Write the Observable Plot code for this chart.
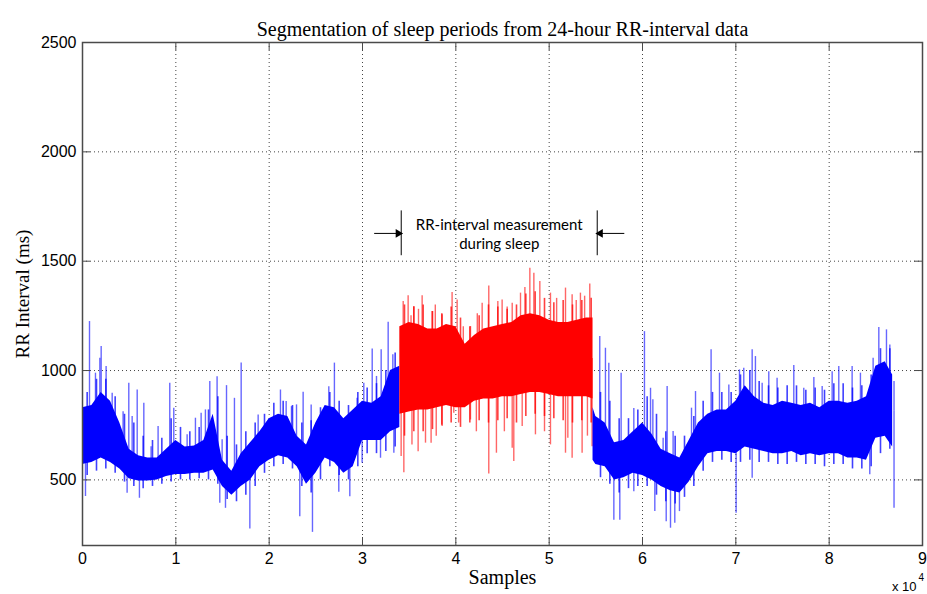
<!DOCTYPE html>
<html><head><meta charset="utf-8">
<script src="https://cdn.jsdelivr.net/npm/d3@7"></script>
<script src="https://cdn.jsdelivr.net/npm/@observablehq/plot@0.6"></script>
<style>body{margin:0;background:#fff}svg{display:block}</style>
</head><body><div id="chart"></div>
<script>
// ---- data (RR interval, ms) ----
const xTicks = [0,10000,20000,30000,40000,50000,60000,70000,80000,90000];
const yTicks = [500,1000,1500,2000,2500];

// awake period before sleep (dense band envelope)
const preX  = [0,1000,2000,3000,4000,5000,6000,7000,8000,9000,10000,11000,12000,13000,14000,15000,16000,17000,18000,19000,20000,21000,22000,23000,24000,25000,26000,27000,28000,29000,30000,31000,32000,33000,34000];
const preLo = [570,580,600,580,550,505,495,495,500,515,525,525,530,530,545,470,430,470,500,560,590,610,600,560,480,530,600,580,530,560,680,680,680,720,740];
const preHi = [830,840,900,860,760,640,610,600,600,640,680,650,655,680,800,590,540,620,670,720,780,800,790,700,660,760,840,830,780,820,860,850,880,1000,1020];
// fuzzy edge reached by the frequent short beats, between the band points
const preFx  = [500,1500,2500,3500,4500,5500,6500,7500,8500,9500,10500,11500,12500,13500,14500,15500,16500,17500,18500,19500,20500,21500,22500,23500,24500,25500,26500,27500,28500,29500,30500,31500,32500,33500];
const preFHi = [900,960,960,880,800,760,700,680,690,780,740,720,740,820,880,700,660,720,760,800,850,860,840,760,770,830,900,860,840,900,920,940,1000,1080];
const preFLo = [520,540,550,530,490,470,460,470,480,490,500,500,505,500,480,410,400,430,470,530,560,570,550,470,440,500,560,520,500,560,620,620,630,650];

// sleep period (red)
const sleepX  = [34000,35000,36000,37000,38000,39000,40000,41000,42000,43000,44000,45000,46000,47000,48000,49000,50000,51000,52000,53000,54000,54700];
const sleepLo = [800,810,820,820,830,840,830,830,860,870,870,880,880,890,900,900,890,880,880,880,880,870];
const sleepHi = [1200,1220,1210,1190,1190,1210,1200,1120,1160,1190,1200,1210,1220,1250,1260,1250,1230,1220,1220,1230,1240,1240];
const sleepFx  = [34500,35500,36500,37500,38500,39500,40500,41500,42500,43500,44500,45500,46500,47500,48500,49500,50500,51500,52500,53500,54500];
const sleepFHi = [1300,1290,1300,1270,1260,1290,1240,1200,1250,1300,1290,1280,1300,1350,1360,1330,1310,1320,1300,1320,1330];
const sleepFLo = [700,720,720,730,750,760,740,760,770,760,770,780,760,790,800,790,780,770,760,770,760];

// awake period after sleep
const postX  = [54700,55000,56000,57000,58000,59000,60000,61000,62000,63000,64000,65000,66000,67000,68000,69000,70000,71000,72000,73000,74000,75000,76000,77000,78000,79000,80000,81000,82000,83000,84000,85000,86000,86800];
const postLo = [590,570,560,500,510,530,520,500,470,450,440,490,560,620,630,630,620,650,640,630,620,620,630,610,620,610,620,620,600,600,590,690,700,650];
const postHi = [830,790,760,670,680,720,760,710,640,620,600,680,760,800,820,820,860,930,880,850,840,860,850,840,850,830,860,860,850,860,880,1020,1040,980];
const postFx  = [55500,56500,57500,58500,59500,60500,61500,62500,63500,64500,65500,66500,67500,68500,69500,70500,71500,72500,73500,74500,75500,76500,77500,78500,79500,80500,81500,82500,83500,84500,85500,86500];
const postFHi = [900,860,780,780,820,880,800,720,700,700,790,860,900,900,900,980,1000,950,930,920,930,930,910,920,910,940,940,920,930,980,1100,1100];
const postFLo = [510,480,440,460,470,470,430,400,390,420,470,540,580,590,580,580,590,580,580,570,570,580,570,570,560,570,570,550,550,560,620,640];

// isolated spikes (sample index, RR value)
const blueSpikeX = [320,750,1390,1860,2000,2530,3180,3530,4350,4780,4960,5320,5860,6100,6570,7350,8100,9350,9780,11210,
  12100,12710,13170,13640,14420,14710,14960,15320,15430,16280,17000,17930,18820,21210,21820,22390,22930,23280,23640,24500,
  24640,26390,26990,27460,28640,29420,29960,30140,31040,31500,31930,32000,32750,33250,33360,55420,56030,56390,56930,57570,
  57710,59070,59070,60210,60860,61110,61320,62210,62540,62640,63000,63280,63460,63960,65250,65680,67350,68250,69250,70030,
  70390,70850,71750,71750,72100,72820,73530,74420,76210,77280,78360,79250,80320,81030,82460,83350,84350,84710,85320,86140,
  86500,86950,86950];
const blueSpikeY = [424,1224,988,1056,1110,1018,896,751,812,439,942,790,911,416,850,652,744,942,828,706,
  782,805,820,950,972,393,683,370,931,873,1034,275,797,911,858,835,843,332,901,843,
  260,926,1034,443,423,873,576,942,1098,973,599,1095,1221,1072,622,1156,1102,1033,316,316,
  988,827,446,1178,919,866,355,690,309,927,279,721,302,355,828,904,1095,988,934,347,
  1003,1011,1095,507,1064,942,995,965,1023,919,968,927,995,1018,1018,988,523,1056,1197,1186,
  1117,370,950];
const redSpikeX = [34360,34890,35200,35500,36000,36390,37460,37800,38530,39600,40140,40800,41570,42300,42820,43530,44500,44960,45500,46040,
  46930,47400,47930,48360,49000,50140,50800,51750,52460,52900,53350,53800,54350,
  34140,34430,35300,35960,36750,37350,37900,38530,39780,40300,41570,42200,43530,44350,45200,46040,46210,47110,48530,49500,
  50140,51750,52000,52460,53530,54100,54600];
const redSpikeY = [1316,1342,1250,1293,1280,1342,1270,1300,1255,1357,1323,1200,1201,1260,1308,1387,1316,1323,1290,1308,
  1354,1380,1468,1445,1407,1354,1330,1377,1346,1320,1354,1340,1396,
  607,533,660,629,668,668,700,744,805,760,774,720,527,622,720,645,584,744,706,720,
  660,622,690,599,622,700,652];

// annotation positions
const markStart = 34150, markEnd = 55150;
const arrowLen = 2900, annoY = 1627, barLow = 1525, barHigh = 1730;

// ---- build tables ----
const rows = (xs, lo, hi) => xs.map((x, i) => ({x, lo: lo[i], hi: hi[i]}));
const pre = rows(preX, preLo, preHi), sleep = rows(sleepX, sleepLo, sleepHi), post = rows(postX, postLo, postHi);
const blueFringe = [...rows(preFx, preFLo, preFHi), ...rows(postFx, postFLo, postFHi)];
const redFringe = rows(sleepFx, sleepFLo, sleepFHi);
function mid(seg, x) {
  let best = seg[0];
  for (const r of seg) if (Math.abs(r.x - x) < Math.abs(best.x - x)) best = r;
  return (best.lo + best.hi) / 2;
}
const blueSpikes = blueSpikeX.map((x, i) => ({x, y: blueSpikeY[i], base: mid(x < 34000 ? pre : post, x)}));
const redSpikes = redSpikeX.map((x, i) => ({x, y: redSpikeY[i], base: mid(sleep, x)}));

const BLUE = "#0000ff", RED = "#ff0000", AX = "#4a4a4a";
const gridStyle = {stroke: "#444", strokeOpacity: 1, strokeWidth: 1, strokeDasharray: "1,3"};
const SERIF = "'Liberation Serif', 'Times New Roman', serif";

const chart = Plot.plot({
  width: 927, height: 594,
  marginLeft: 82, marginRight: 5, marginTop: 42, marginBottom: 49,
  style: {fontFamily: "'Liberation Sans', Arial, sans-serif", fontSize: "16px", color: "#000", background: "#fff"},
  x: {domain: [0, 90000], label: null},
  y: {domain: [200, 2500], label: null},
  marks: [
    Plot.gridX(xTicks.slice(1, -1), gridStyle),
    Plot.gridY(yTicks.slice(0, -1), gridStyle),
    Plot.ruleX(blueSpikes, {x: "x", y1: "base", y2: "y", stroke: BLUE, strokeOpacity: 0.6, strokeWidth: 1.4}),
    Plot.ruleX(redSpikes, {x: "x", y1: "base", y2: "y", stroke: RED, strokeOpacity: 0.6, strokeWidth: 1.4}),
    Plot.ruleX(blueFringe, {x: "x", y1: "lo", y2: "hi", stroke: BLUE, strokeOpacity: 0.75, strokeWidth: 1.6}),
    Plot.ruleX(redFringe, {x: "x", y1: "lo", y2: "hi", stroke: RED, strokeOpacity: 0.75, strokeWidth: 1.6}),
    Plot.areaY(pre, {x: "x", y1: "lo", y2: "hi", fill: BLUE}),
    Plot.areaY(post, {x: "x", y1: "lo", y2: "hi", fill: BLUE}),
    Plot.areaY(sleep, {x: "x", y1: "lo", y2: "hi", fill: RED}),
    // inward ticks (MATLAB style)
    Plot.ruleX(xTicks, {x: d => d, y1: 200, y2: 200, insetBottom: 8, stroke: AX}),
    Plot.ruleX(xTicks, {x: d => d, y1: 2500, y2: 2500, insetTop: 8, stroke: AX}),
    Plot.ruleY(yTicks, {y: d => d, x1: 0, x2: 0, insetLeft: 8, stroke: AX}),
    Plot.ruleY(yTicks, {y: d => d, x1: 90000, x2: 90000, insetRight: 8, stroke: AX}),
    Plot.axisX(xTicks, {tickSize: 0, tickPadding: 7, tickFormat: d => String(d / 10000)}),
    Plot.axisY(yTicks, {tickSize: 0, tickPadding: 6, tickFormat: d => String(d)}),
    Plot.frame({stroke: AX, strokeWidth: 1.5}),
    // annotation
    Plot.ruleX([markStart, markEnd], {x: d => d, y1: barLow, y2: barHigh, stroke: "#000", strokeWidth: 1}),
    Plot.link([{a: markStart - arrowLen, b: markStart - 300}, {a: markEnd + arrowLen, b: markEnd + 300}],
      {x1: "a", x2: "b", y1: annoY, y2: annoY, stroke: "#000", strokeWidth: 1}),
    Plot.dot([{x: markStart - 330, r: 90}, {x: markEnd + 330, r: -90}],
      {x: "x", y: annoY, symbol: "triangle", r: 3.2, rotate: "r", fill: "#000", stroke: null}),
    Plot.text(["RR-interval measurement\nduring sleep"], {x: (markStart + markEnd) / 2, y: annoY, fontFamily: "Lato, 'Open Sans', sans-serif", fontSize: 15, lineHeight: 1.3, fill: "#000"}),
    // titles
    Plot.text(["Segmentation of sleep periods from 24-hour RR-interval data"], {frameAnchor: "top", dy: -21, fontFamily: SERIF, fontSize: 20, fill: "#000"}),
    Plot.text(["Samples"], {frameAnchor: "bottom", dy: 38.5, fontFamily: SERIF, fontSize: 20, fill: "#000"}),
    Plot.text(["RR Interval (ms)"], {frameAnchor: "left", dx: -60, rotate: -90, textAnchor: "middle", fontFamily: SERIF, fontSize: 19, fill: "#000"}),
    Plot.text(["x 10"], {frameAnchor: "bottom-right", dx: -6, dy: 45, textAnchor: "end", fontSize: 13, fill: "#000"}),
    Plot.text(["4"], {frameAnchor: "bottom-right", dx: -4, dy: 35, textAnchor: "start", fontSize: 10, fill: "#000"})
  ]
});
document.getElementById("chart").appendChild(chart);
</script>
</body></html>
